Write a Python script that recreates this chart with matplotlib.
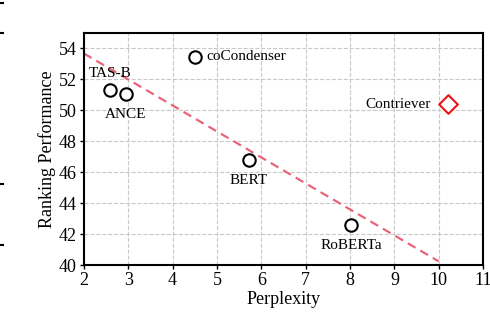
import numpy as np
import matplotlib
matplotlib.use("Agg")
import matplotlib.pyplot as plt
from matplotlib.lines import Line2D

plt.rcParams['font.family'] = ['Liberation Serif', 'DejaVu Serif']

models = ["TAS-B", "ANCE", "coCondenser", "BERT", "RoBERTa"]
perplexity = [2.6, 2.95, 4.5, 5.72, 8.02]
ranking = [51.3, 51.05, 53.45, 46.8, 42.6]

special_model = "Contriever"
special_perplexity = 10.2
special_ranking = 50.4

xticks = [2, 3, 4, 5, 6, 7, 8, 9, 10, 11]
yticks = [40, 42, 44, 46, 48, 50, 52, 54]

fig = plt.figure(figsize=(4.9, 3.12), dpi=100)
ax = fig.add_axes([0.171, 0.150, 0.815, 0.745])

ax.grid(True, color='#c8c8c8', linestyle='--', linewidth=0.8)
ax.set_axisbelow(True)

# trend line (least-squares fit)
coef = np.polyfit(perplexity, ranking, 1)
xs = np.array([2, 10])
ax.plot(xs, np.polyval(coef, xs), color='#e8647a', linestyle='--', linewidth=1.6, dashes=(4, 2.5), zorder=2)

ax.scatter(perplexity, ranking, s=80, facecolors='white', edgecolors='black', linewidths=1.5, zorder=3)
ax.scatter([special_perplexity], [special_ranking], s=90, marker='D', facecolors='white',
           edgecolors='#ee1111', linewidths=1.5, zorder=3)

fs = 11
offsets = {
    "TAS-B": (0.0, 1.1, 'center'),
    "ANCE": (0.0, -1.3, 'center'),
    "coCondenser": (0.26, 0.0, 'left'),
    "BERT": (0.0, -1.35, 'center'),
    "RoBERTa": (0.0, -1.35, 'center'),
}
for m, px, py in zip(models, perplexity, ranking):
    dx, dy, ha = offsets[m]
    ax.text(px + dx, py + dy, m, fontsize=fs, ha=ha, va='center')
ax.text(special_perplexity - 0.38, special_ranking, special_model, fontsize=fs, ha='right', va='center')

ax.set_xlim(2, 11)
ax.set_ylim(40, 55)
ax.set_xticks(xticks)
ax.set_yticks(yticks)
ax.tick_params(labelsize=13, length=3, width=1, direction='out', pad=2)
for s in ax.spines.values():
    s.set_linewidth(1.5)

ax.set_xlabel("Perplexity", fontsize=13, labelpad=1)
ax.set_ylabel("Ranking Performance", fontsize=13, labelpad=2)

# small marks at the left edge from the source crop
for yy in [0.99, 0.894, 0.41, 0.215]:
    fig.add_artist(Line2D([0.0, 0.006], [yy, yy], transform=fig.transFigure, color='black', linewidth=1.5))

fig.savefig("out.png", dpi=100)
